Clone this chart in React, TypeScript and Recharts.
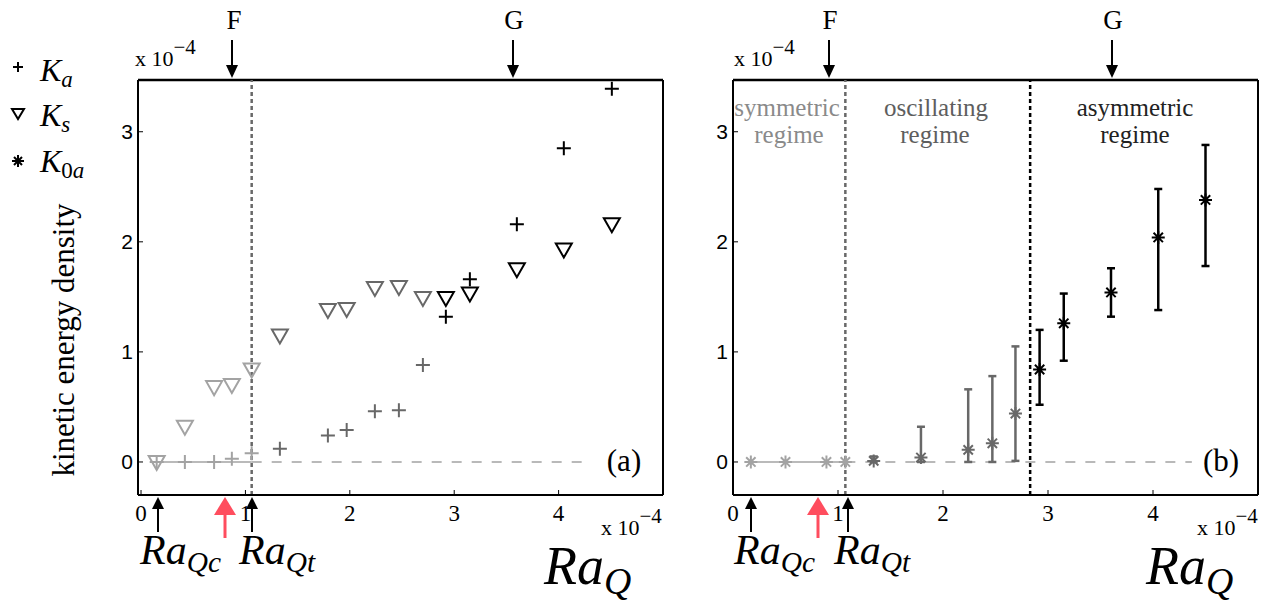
import React from 'react';
import {
  ScatterChart,
  Scatter,
  XAxis,
  YAxis,
  ReferenceLine,
  ErrorBar,
} from 'recharts';

// panel (a): Ka and Ks against RaQ (x 10^-4)
const raQa = [0.15, 0.42, 0.7, 0.87, 1.06, 1.33, 1.79, 1.97, 2.24, 2.47, 2.7, 2.92, 3.15, 3.6, 4.05, 4.51];
const kA = [0, 0, 0, 0.03, 0.08, 0.12, 0.24, 0.29, 0.46, 0.47, 0.88, 1.32, 1.66, 2.16, 2.85, 3.39];
const kS = [0, 0.32, 0.68, 0.7, 0.84, 1.15, 1.38, 1.39, 1.58, 1.59, 1.49, 1.49, 1.53, 1.75, 1.93, 2.16];

// panel (b): K0a with min / max range
const raQb = [0.17, 0.5, 0.89, 1.07, 1.34, 1.79, 2.24, 2.47, 2.69, 2.92, 3.15, 3.6, 4.05, 4.5];
const k0a = [0, 0, 0, 0, 0.01, 0.04, 0.11, 0.17, 0.44, 0.84, 1.26, 1.54, 2.04, 2.38];
const k0aLow = [0, 0, 0, 0, 0, 0, 0, 0, 0.01, 0.52, 0.92, 1.32, 1.38, 1.78];
const k0aHigh = [0, 0, 0, 0, 0.05, 0.32, 0.66, 0.78, 1.05, 1.2, 1.53, 1.76, 2.48, 2.88];

const xTicks = [0, 1, 2, 3, 4];
const yTicks = [0, 1, 2, 3];

// regime boundaries
const raQtA = 1.06;
const raQtB = 1.07;
const raAsym = 2.83;
const dashEndA = 4.3;
const dashEndB = 4.37;

const LIGHT = '#a3a3a3';
const MID = '#686868';
const DARK = '#000';
const SERIF = '"Liberation Serif", "DejaVu Serif", serif';
const SANS = '"Liberation Sans", Arial, sans-serif';
const serif = { fontFamily: SERIF };

const Y_DOMAIN: [number, number] = [-0.3, 3.47];
const XA_DOMAIN: [number, number] = [-0.029, 5];
const XB_DOMAIN: [number, number] = [0, 5];

const groupOf = (x: number) => (x < 1.1 ? 0 : x < 2.8 ? 1 : 2);
const colors = [LIGHT, MID, DARK];

const split = (xs: number[], ys: number[], extra?: (i: number) => any) => {
  const out: any[][] = [[], [], []];
  xs.forEach((x, i) => out[groupOf(x)].push({ x, y: ys[i], ...(extra ? extra(i) : {}) }));
  return out;
};

const kaGroups = split(raQa, kA);
const ksGroups = split(raQa, kS);
const k0Groups = split(raQb, k0a, (i) => ({ err: [k0a[i] - k0aLow[i], k0aHigh[i] - k0a[i]] }));

const plusShape = (color: string) => (p: any) => (
  <path d={`M${p.cx - 7},${p.cy}H${p.cx + 7}M${p.cx},${p.cy - 7}V${p.cy + 7}`} stroke={color} strokeWidth={2} fill="none" />
);
const triShape = (color: string) => (p: any) => (
  <path d={`M${p.cx - 8},${p.cy - 6}L${p.cx + 8},${p.cy - 6}L${p.cx},${p.cy + 8}Z`} stroke={color} strokeWidth={2} fill="none" />
);
const starShape = (color: string) => (p: any) => {
  const r = 6.5;
  const d = r * 0.72;
  return (
    <path
      d={`M${p.cx - r},${p.cy}H${p.cx + r}M${p.cx},${p.cy - r}V${p.cy + r}M${p.cx - d},${p.cy - d}L${p.cx + d},${p.cy + d}M${p.cx - d},${p.cy + d}L${p.cx + d},${p.cy - d}`}
      stroke={color}
      strokeWidth={2}
      fill="none"
    />
  );
};

const Axes = ({ domain }: { domain: [number, number] }) => (
  <>
    <XAxis
      type="number"
      dataKey="x"
      domain={domain}
      allowDataOverflow
      ticks={xTicks}
      height={40}
      axisLine={{ stroke: '#000', strokeWidth: 2 }}
      tickLine={{ stroke: '#000' }}
      tickSize={-5}
      tickMargin={15}
      tick={{ style: serif, fontSize: 23, fill: '#000' }}
    />
    <YAxis
      type="number"
      dataKey="y"
      domain={Y_DOMAIN}
      allowDataOverflow
      ticks={yTicks}
      width={60}
      axisLine={{ stroke: '#000', strokeWidth: 2 }}
      tickLine={{ stroke: '#000' }}
      tickSize={-5}
      tickMargin={10}
      tick={{ style: { fontFamily: SANS }, fontSize: 21, fill: '#000' }}
    />
  </>
);

const PanelA = () => (
  <ScatterChart width={700} height={603} margin={{ top: 80, right: 37, bottom: 68, left: 78 }}>
    {Axes({ domain: XA_DOMAIN })}
    <ReferenceLine y={Y_DOMAIN[1]} stroke="#000" strokeWidth={2.5} />
    <ReferenceLine x={XA_DOMAIN[1]} stroke="#000" strokeWidth={2} />
    <ReferenceLine segment={[{ x: raQa[0], y: 0 }, { x: raQtA, y: 0 }]} stroke={LIGHT} strokeWidth={1.5} />
    <ReferenceLine segment={[{ x: raQtA, y: 0 }, { x: dashEndA, y: 0 }]} stroke={LIGHT} strokeWidth={1.5} strokeDasharray="10 10" />
    <ReferenceLine x={raQtA} stroke={MID} strokeWidth={2.5} strokeDasharray="4 3" />
    {ksGroups.map((g, i) => (
      <Scatter key={'s' + i} data={g} shape={triShape(colors[i])} isAnimationActive={false} />
    ))}
    {kaGroups.map((g, i) => (
      <Scatter key={'a' + i} data={g} shape={plusShape(colors[i])} isAnimationActive={false} />
    ))}
  </ScatterChart>
);

const PanelB = () => (
  <ScatterChart width={640} height={603} margin={{ top: 80, right: 22, bottom: 68, left: 33 }}>
    {Axes({ domain: XB_DOMAIN })}
    <ReferenceLine y={Y_DOMAIN[1]} stroke="#000" strokeWidth={2.5} />
    <ReferenceLine x={XB_DOMAIN[1]} stroke="#000" strokeWidth={2} />
    <ReferenceLine segment={[{ x: raQb[0], y: 0 }, { x: raQtB, y: 0 }]} stroke={LIGHT} strokeWidth={1.5} />
    <ReferenceLine segment={[{ x: raQtB, y: 0 }, { x: dashEndB, y: 0 }]} stroke={LIGHT} strokeWidth={1.5} strokeDasharray="10 10" />
    <ReferenceLine x={raQtB} stroke={MID} strokeWidth={2.5} strokeDasharray="4 3" />
    <ReferenceLine x={raAsym} stroke={DARK} strokeWidth={2.5} strokeDasharray="4 3" />
    {k0Groups.map((g, i) => (
      <Scatter key={'k' + i} data={g} shape={starShape(colors[i])} isAnimationActive={false}>
        {i > 0 && <ErrorBar dataKey="err" direction="y" width={4} stroke={colors[i]} strokeWidth={2.5} />}
      </Scatter>
    ))}
  </ScatterChart>
);

const downArrow = (x: number, key: string) => (
  <g key={key}>
    <line x1={x} y1={40} x2={x} y2={68} stroke="#000" strokeWidth={2} />
    <polygon points={`${x - 6},${65} ${x + 6},${65} ${x},${78}`} fill="#000" />
  </g>
);
const upArrow = (x: number, key: string, color = '#000', big = false) => (
  <g key={key}>
    <line x1={x} y1={big ? 538 : 532} x2={x} y2={506} stroke={color} strokeWidth={big ? 3 : 2} />
    <polygon points={big ? `${x - 11},${515} ${x + 11},${515} ${x},${497}` : `${x - 6},${509} ${x + 6},${509} ${x},${497}`} fill={color} />
  </g>
);

const Sci = ({ x, y }: { x: number; y: number }) => (
  <text x={x} y={y} style={serif} fontSize={22} fill="#000">
    x 10<tspan dy={-12} fontSize={21}>−4</tspan>
  </text>
);

const RaLabel = ({ x, y, sub, size }: { x: number; y: number; sub: string; size: number }) => (
  <text x={x} y={y} style={{ fontFamily: SERIF, fontStyle: 'italic' }} fontSize={size} fill="#000">
    Ra<tspan dy={size * 0.18} fontSize={size * 0.7}>{sub}</tspan>
  </text>
);

const Overlay = () => (
  <svg width={1282} height={603} style={{ position: 'absolute', left: 0, top: 0, pointerEvents: 'none', fontFamily: SERIF }}>
    {/* legend */}
    <path d="M13,67H23M18,62V72" stroke="#000" strokeWidth={2} />
    <text x={40} y={81} style={{ fontFamily: SERIF, fontStyle: 'italic' }} fontSize={32}>
      K<tspan dy={6} fontSize={23}>a</tspan>
    </text>
    <path d="M12,109L24,109L18,119Z" stroke="#000" strokeWidth={2} fill="none" />
    <text x={40} y={126} style={{ fontFamily: SERIF, fontStyle: 'italic' }} fontSize={32}>
      K<tspan dy={6} fontSize={23}>s</tspan>
    </text>
    <path d="M12,161H24M18,155V167M14,157L22,165M14,165L22,157" stroke="#000" strokeWidth={2} />
    <text x={40} y={172} style={{ fontFamily: SERIF, fontStyle: 'italic' }} fontSize={32}>
      K<tspan dy={6} fontSize={23} style={{ fontStyle: 'normal' }}>0</tspan><tspan fontSize={23}>a</tspan>
    </text>

    {/* y label */}
    <text x={74} y={340} transform="rotate(-90 74 340)" textAnchor="middle" style={serif} fontSize={31} fill="#000">
      kinetic energy density
    </text>

    {/* top markers */}
    <text x={234} y={29} textAnchor="middle" style={serif} fontSize={27}>F</text>
    <text x={514} y={29} textAnchor="middle" style={serif} fontSize={27}>G</text>
    <text x={830} y={29} textAnchor="middle" style={serif} fontSize={27}>F</text>
    <text x={1113} y={29} textAnchor="middle" style={serif} fontSize={27}>G</text>
    {[232, 513, 829, 1112].map((x, i) => downArrow(x, 'd' + i))}

    <Sci x={135} y={66} />
    <Sci x={734} y={66} />
    <Sci x={601} y={535} />
    <Sci x={1197} y={535} />

    <text x={624} y={471} textAnchor="middle" style={serif} fontSize={31}>(a)</text>
    <text x={1221} y={471} textAnchor="middle" style={serif} fontSize={31}>(b)</text>

    {/* regimes */}
    <g fontSize={25} textAnchor="middle" style={serif}>
      <text x={787} y={116} fill="#8a8a8a">symmetric</text>
      <text x={789} y={143} fill="#8a8a8a">regime</text>
      <text x={936} y={116} fill="#5e5e5e">oscillating</text>
      <text x={935} y={143} fill="#5e5e5e">regime</text>
      <text x={1135} y={116} fill="#222">asymmetric</text>
      <text x={1135} y={143} fill="#222">regime</text>
    </g>

    {/* bottom arrows and labels */}
    {upArrow(158, 'u1')}
    {upArrow(225, 'u2', '#ff4d5e', true)}
    {upArrow(252, 'u3')}
    {upArrow(751, 'u4')}
    {upArrow(818, 'u5', '#ff4d5e', true)}
    {upArrow(848, 'u6')}
    <RaLabel x={140} y={564} sub="Qc" size={42} />
    <RaLabel x={239} y={564} sub="Qt" size={42} />
    <RaLabel x={734} y={564} sub="Qc" size={42} />
    <RaLabel x={834} y={564} sub="Qt" size={42} />
    <RaLabel x={544} y={584} sub="Q" size={54} />
    <RaLabel x={1146} y={584} sub="Q" size={54} />
  </svg>
);

export default function App() {
  return (
    <div style={{ position: 'absolute', left: 0, top: 0, width: 1282, height: 603, background: '#fff', overflow: 'hidden' }}>
      <div style={{ position: 'absolute', left: 0, top: 0 }}>
        <PanelA />
      </div>
      <div style={{ position: 'absolute', left: 640, top: 0 }}>
        <PanelB />
      </div>
      <Overlay />
    </div>
  );
}
